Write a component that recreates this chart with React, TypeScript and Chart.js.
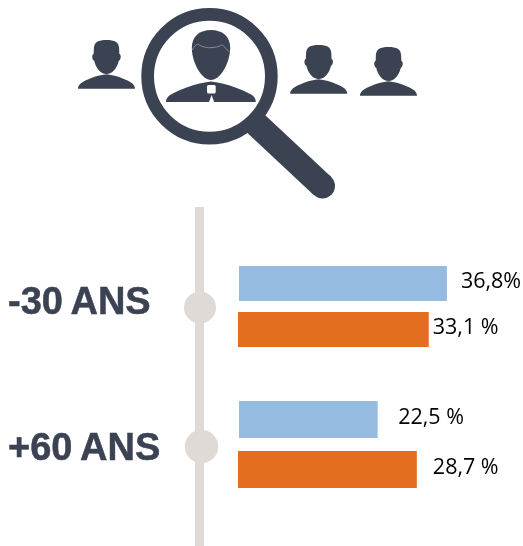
import React, { useEffect, useRef } from "react";
import { Chart, registerables } from "chart.js";

Chart.register(...registerables);

const categories = ["-30 ANS", "+60 ANS"];
const youngerSeries = [36.8, 24.6];
const olderSeries = [33.6, 31.5];
const youngerLabels = ["36,8%", "22,5 %"];
const olderLabels = ["33,1 %", "28,7 %"];

const INK = "#3b4252";
const RAIL = "#dfdad6";
const BLUE = "#95bbe0";
const ORANGE = "#e46e20";

const categoryPct = [0.667, 0.725];
const barPct = [0.761, 0.74];
const youngerGap = [14, 20.5];
const olderGap = [4, 16];
const categoryLabelShift = [-3, 4.7];
const knobShift = [1, 2];
const knobX = [200, 201.5];
const knobR = [16, 16.7];

function person(ctx: CanvasRenderingContext2D, cx: number, by: number) {
  ctx.save();
  ctx.translate(cx, by);
  ctx.fillStyle = INK;
  const head = new Path2D(
    "M0,-48.7 C8,-48.7 12.8,-47 12.7,-39 L12.8,-35 C14.8,-34.5 14.8,-29 12.3,-28 C10.8,-21 6,-14.7 0,-14.7 C-6,-14.7 -10.8,-21 -12.3,-28 C-14.8,-29 -14.8,-34.5 -12.8,-35 L-12.7,-39 C-12.8,-47 -8,-48.7 0,-48.7 Z"
  );
  ctx.fill(head);
  const body = new Path2D(
    "M-28.5,0 C-28.7,-3 -26,-5.3 -24.8,-6 C-20,-9 -12,-13 0,-14.5 C12,-13 20,-9 24.8,-6 C26,-5.3 28.7,-3 28.5,0 Z"
  );
  ctx.fill(body);
  ctx.restore();
}

function magnifier(ctx: CanvasRenderingContext2D) {
  ctx.save();
  ctx.strokeStyle = INK;
  ctx.fillStyle = INK;
  ctx.lineWidth = 12.7;
  ctx.beginPath();
  ctx.arc(209.5, 76.2, 61.85, 0, Math.PI * 2);
  ctx.stroke();
  ctx.lineWidth = 25;
  ctx.beginPath();
  ctx.moveTo(253, 121);
  ctx.lineTo(322.5, 186);
  ctx.stroke();
  ctx.beginPath();
  ctx.arc(322.5, 186, 12.5, 0, Math.PI * 2);
  ctx.fill();

  ctx.translate(211, 102);
  ctx.fill(
    new Path2D(
      "M0,-72 C11,-72 19.3,-66 19.2,-54 L19,-50.5 C17.5,-37 9,-22 0,-22 C-9,-22 -17.5,-37 -19,-50.5 L-19.2,-54 C-19.3,-66 -11,-72 0,-72 Z"
    )
  );
  ctx.fill(
    new Path2D(
      "M-45,0 C-45,-4 -42,-6.5 -40,-7.5 C-30,-13 -18,-18 0,-20.5 C18,-18 30,-13 40,-7.5 C42,-6.5 45,-4 44.7,0 Z"
    )
  );
  ctx.strokeStyle = "#8d919b";
  ctx.lineWidth = 0.9;
  ctx.stroke(
    new Path2D(
      "M-18.7,-52 C-17,-55 -15,-58 -12.7,-57.7 C-8,-54 -2,-54.5 -1,-54.3 C3,-54.5 8,-55 10.7,-57 C13,-57 15,-52 18.3,-50.3"
    )
  );
  ctx.fillStyle = "#ffffff";
  ctx.beginPath();
  ctx.roundRect(-4, -17, 8.7, 8.4, 1.5);
  ctx.fill();
  ctx.beginPath();
  ctx.moveTo(0.6, -7);
  ctx.lineTo(3.2, 0);
  ctx.lineTo(-2, 0);
  ctx.closePath();
  ctx.fill();
  ctx.restore();
}

const decorations = {
  id: "decorations",
  beforeDatasetsDraw(chart: any) {
    const { ctx } = chart;
    const y = chart.scales.y;
    magnifier(ctx);
    person(ctx, 106.5, 88.7);
    person(ctx, 318.7, 93.7);
    person(ctx, 388.5, 95.7);
    ctx.save();
    ctx.fillStyle = RAIL;
    ctx.fillRect(195, 207, 9, 339);
    categories.forEach((_, i) => {
      ctx.beginPath();
      ctx.arc(knobX[i], y.getPixelForValue(i) + knobShift[i], knobR[i], 0, Math.PI * 2);
      ctx.fill();
    });
    ctx.fillStyle = INK;
    ctx.strokeStyle = INK;
    ctx.lineWidth = 0.5;
    ctx.font = 'bold 38px "Liberation Sans"';
    (ctx as any).wordSpacing = "-3px";
    ctx.textAlign = "left";
    ctx.textBaseline = "middle";
    categories.forEach((c, i) => {
      const py = y.getPixelForValue(i) + categoryLabelShift[i];
      ctx.fillText(c, 8, py);
      ctx.strokeText(c, 8, py);
    });
    (ctx as any).wordSpacing = "0px";
    ctx.restore();
  },
  afterDatasetsDraw(chart: any) {
    const { ctx } = chart;
    ctx.save();
    ctx.fillStyle = "#000000";
    ctx.font = '21.5px "Open Sans"';
    ctx.textAlign = "left";
    ctx.textBaseline = "middle";
    chart.data.datasets.forEach((ds: any, d: number) => {
      const bar = chart.getDatasetMeta(d).data[ds.group];
      ctx.fillText(ds.valueLabel, bar.x + ds.labelGap, bar.y - 2);
    });
    ctx.restore();
  },
};

// One dataset per bar, so that each age group keeps its own bar thickness and spacing.
function groupDatasets() {
  return categories.flatMap((_, g) => [
    {
      data: categories.map((_c, j) => (j === g ? youngerSeries[g] : null)),
      backgroundColor: BLUE,
      base: 0.176,
      group: g,
      valueLabel: youngerLabels[g],
      labelGap: youngerGap[g],
      categoryPercentage: categoryPct[g],
      barPercentage: barPct[g],
      skipNull: true,
    },
    {
      data: categories.map((_c, j) => (j === g ? olderSeries[g] : null)),
      backgroundColor: ORANGE,
      group: g,
      valueLabel: olderLabels[g],
      labelGap: olderGap[g],
      categoryPercentage: categoryPct[g],
      barPercentage: barPct[g],
      skipNull: true,
    },
  ]);
}

export default function App() {
  const ref = useRef<HTMLCanvasElement>(null);
  useEffect(() => {
    const chart = new Chart(ref.current!, {
      type: "bar",
      data: { labels: categories, datasets: groupDatasets() as any },
      options: {
        indexAxis: "y",
        responsive: false,
        animation: false,
        layout: { padding: { left: 238, right: 0, top: 237.5, bottom: 32.5 } },
        plugins: { legend: { display: false }, tooltip: { enabled: false } },
        scales: {
          x: { display: false, min: 0, max: 50.2 },
          y: { display: false },
        },
      },
      plugins: [decorations],
    });
    return () => chart.destroy();
  }, []);
  return (
    <div style={{ position: "absolute", left: 0, top: 0, width: 523, height: 546 }}>
      <canvas ref={ref} width={523} height={546} style={{ display: "block" }} />
    </div>
  );
}
